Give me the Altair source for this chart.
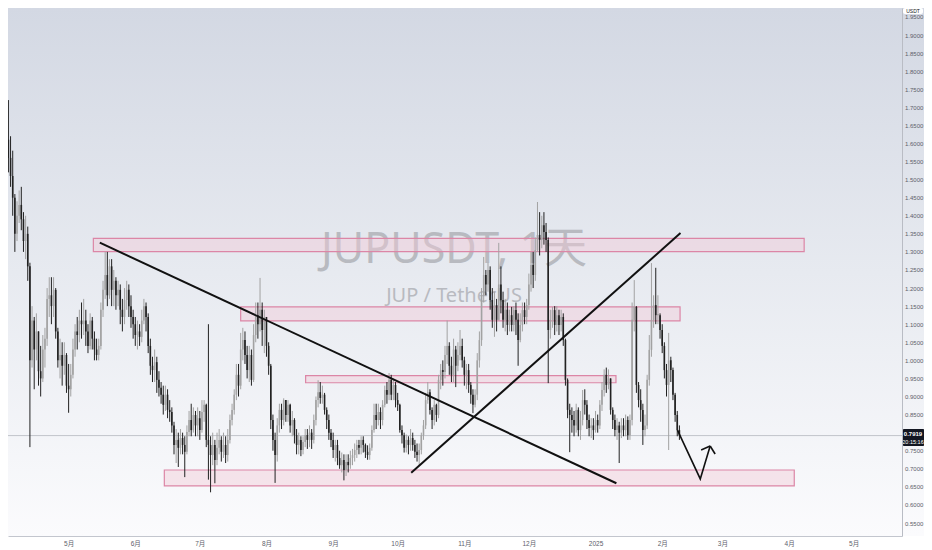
import json
import altair as alt
import pandas as pd

# ---------------- data (daily candles, day 0 = 2024-04-01) ----------------
first_open = 1.84
close = [1.66, 1.61, 1.56, 1.51, 1.45, 1.35, 1.40, 1.43, 1.39, 1.33,
         1.35, 1.26, 1.00, 1.11, 1.03, 1.08, 0.97, 0.95, 1.03, 1.06,
         1.17, 1.18, 1.15, 1.195, 1.08, 1.00, 1.015, 0.985, 1.015, 0.93,
         0.92, 0.96, 1.03, 1.08, 1.07, 1.11, 1.10, 1.11, 1.08, 1.04,
         1.11, 1.06, 1.03, 1.015, 1.04, 1.14, 1.195, 1.236, 1.18, 1.26,
         1.195, 1.22, 1.18, 1.195, 1.14, 1.12, 1.167, 1.195, 1.15, 1.12,
         1.10, 1.07, 1.08, 1.065, 1.11, 1.15, 1.12, 1.04, 0.985, 0.973,
         0.995, 0.946, 0.924, 0.905, 0.877, 0.905, 0.863, 0.857, 0.82, 0.766,
         0.78, 0.758, 0.785, 0.766, 0.747, 0.802, 0.835, 0.807, 0.849, 0.82,
         0.84, 0.807, 0.857, 0.877, 0.78, 0.766, 0.738, 0.766, 0.724, 0.758,
         0.78, 0.747, 0.766, 0.738, 0.78, 0.835, 0.863, 0.905, 0.96, 0.93,
         1.03, 1.056, 1.015, 0.973, 1.015, 0.946, 1.07, 1.125, 1.10, 1.14,
         1.084, 1.12, 1.04, 0.985, 0.835, 0.78, 0.738, 0.82, 0.863, 0.835,
         0.89, 0.849, 0.877, 0.82, 0.835, 0.793, 0.766, 0.78, 0.752, 0.774,
         0.793, 0.78, 0.80, 0.78, 0.835, 0.89, 0.912, 0.896, 0.905, 0.863,
         0.835, 0.80, 0.78, 0.752, 0.766, 0.73, 0.71, 0.724, 0.697, 0.719,
         0.71, 0.73, 0.738, 0.752, 0.766, 0.758, 0.78, 0.766, 0.747, 0.738,
         0.758, 0.807, 0.849, 0.835, 0.857, 0.835, 0.877, 0.918, 0.905, 0.946,
         0.905, 0.932, 0.89, 0.877, 0.807, 0.793, 0.758, 0.78, 0.766, 0.785,
         0.766, 0.747, 0.738, 0.752, 0.793, 0.82, 0.89, 0.912, 0.863, 0.835,
         0.877, 0.849, 0.946, 0.973, 0.968, 1.015, 1.04, 0.985, 0.96, 1.03,
         0.985, 1.015, 1.04, 1.00, 0.96, 0.973, 0.932, 0.905, 0.877, 0.905,
         1.00, 1.056, 1.18, 1.236, 1.21, 1.25, 1.167, 1.112, 1.153, 1.112,
         1.21, 1.167, 1.112, 1.14, 1.098, 1.125, 1.098, 1.139, 1.112, 1.056,
         1.098, 1.139, 1.12, 1.153, 1.21, 1.264, 1.236, 1.305, 1.347, 1.333,
         1.374, 1.355, 1.333, 1.084, 1.112, 1.139, 1.098, 1.125, 1.098, 1.12,
         1.056, 0.946, 0.863, 0.849, 0.835, 0.82, 0.863, 0.807, 0.835, 0.89,
         0.877, 0.835, 0.813, 0.82, 0.807, 0.835, 0.82, 0.877, 0.918, 0.96,
         0.932, 0.95, 0.863, 0.835, 0.807, 0.82, 0.80, 0.82, 0.807, 0.835,
         0.793, 0.835, 1.112, 1.148, 0.932, 0.89, 0.863, 0.807, 0.82, 0.946,
         1.029, 1.112, 1.153, 1.125, 1.125, 1.084, 1.04, 0.973, 0.932, 1.00,
         0.973, 0.905, 0.849, 0.807, 0.7919]
high = [1.87, 1.70, 1.72, 1.62, 1.58, 1.46, 1.44, 1.47, 1.48, 1.41,
        1.40, 1.37, 1.27, 1.15, 1.12, 1.13, 1.08, 1.04, 1.07, 1.09,
        1.20, 1.23, 1.23, 1.23, 1.20, 1.09, 1.06, 1.05, 1.05, 1.02,
        0.99, 0.99, 1.06, 1.10, 1.12, 1.14, 1.16, 1.17, 1.14, 1.10,
        1.13, 1.12, 1.08, 1.06, 1.06, 1.16, 1.22, 1.30, 1.30, 1.28,
        1.28, 1.25, 1.23, 1.22, 1.21, 1.17, 1.20, 1.22, 1.21, 1.18,
        1.14, 1.12, 1.11, 1.10, 1.14, 1.17, 1.16, 1.13, 1.06, 1.01,
        1.03, 1.01, 0.97, 0.94, 0.93, 0.93, 0.92, 0.89, 0.87, 0.83,
        0.81, 0.80, 0.81, 0.80, 0.79, 0.82, 0.86, 0.88, 0.87, 0.86,
        0.87, 0.86, 0.89, 0.89, 0.88, 1.10, 0.79, 0.80, 0.78, 0.80,
        0.81, 0.79, 0.80, 0.79, 0.81, 0.85, 0.88, 0.92, 0.99, 0.99,
        1.076, 1.09, 1.08, 1.04, 1.04, 1.03, 1.10, 1.16, 1.16, 1.228,
        1.16, 1.14, 1.12, 1.05, 0.99, 0.85, 0.80, 0.84, 0.88, 0.88,
        0.895, 0.89, 0.89, 0.88, 0.86, 0.84, 0.81, 0.80, 0.79, 0.79,
        0.81, 0.81, 0.82, 0.81, 0.85, 0.90, 0.945, 0.94, 0.93, 0.91,
        0.87, 0.85, 0.81, 0.80, 0.78, 0.78, 0.75, 0.745, 0.74, 0.74,
        0.74, 0.75, 0.755, 0.77, 0.78, 0.78, 0.79, 0.79, 0.77, 0.765,
        0.77, 0.82, 0.88, 0.88, 0.88, 0.87, 0.89, 0.93, 0.94, 0.965,
        0.96, 0.95, 0.94, 0.91, 0.88, 0.82, 0.80, 0.795, 0.79, 0.81,
        0.80, 0.78, 0.77, 0.77, 0.80, 0.835, 0.91, 0.94, 0.92, 0.87,
        0.89, 0.88, 0.96, 0.99, 1.00, 1.04, 1.11, 1.05, 1.01, 1.06,
        1.04, 1.05, 1.084, 1.06, 1.01, 0.99, 0.99, 0.94, 0.92, 0.92,
        1.02, 1.08, 1.20, 1.286, 1.25, 1.27, 1.26, 1.20, 1.19, 1.17,
        1.325, 1.26, 1.19, 1.17, 1.16, 1.14, 1.148, 1.15, 1.16, 1.13,
        1.13, 1.16, 1.16, 1.17, 1.24, 1.30, 1.30, 1.34, 1.438, 1.41,
        1.40, 1.41, 1.38, 1.34, 1.14, 1.148, 1.15, 1.15, 1.14, 1.14,
        1.13, 1.06, 0.95, 0.88, 0.87, 0.86, 0.88, 0.87, 0.86, 0.918,
        0.92, 0.89, 0.85, 0.84, 0.84, 0.86, 0.85, 0.89, 0.94, 0.975,
        0.98, 0.975, 0.95, 0.87, 0.85, 0.84, 0.83, 0.84, 0.84, 0.85,
        0.845, 0.85, 1.16, 1.222, 1.15, 0.94, 0.92, 0.88, 0.85, 0.96,
        1.07, 1.269, 1.18, 1.256, 1.18, 1.13, 1.10, 1.05, 0.99, 1.076,
        1.01, 0.98, 0.91, 0.86, 0.82]
low = [1.62, 1.55, 1.52, 1.48, 1.40, 1.30, 1.33, 1.38, 1.36, 1.30,
       1.28, 1.22, 0.76, 0.98, 0.92, 1.00, 0.93, 0.90, 0.94, 0.98,
       1.04, 1.12, 1.10, 1.12, 1.06, 0.98, 0.95, 0.93, 0.96, 0.91,
       0.855, 0.90, 0.95, 1.01, 1.03, 1.05, 1.06, 1.07, 1.04, 1.02,
       1.03, 1.03, 1.00, 1.00, 1.00, 1.03, 1.12, 1.17, 1.15, 1.17,
       1.15, 1.15, 1.14, 1.15, 1.10, 1.08, 1.10, 1.14, 1.12, 1.09,
       1.06, 1.04, 1.03, 1.04, 1.05, 1.10, 1.08, 1.02, 0.96, 0.94,
       0.94, 0.91, 0.90, 0.88, 0.85, 0.86, 0.84, 0.83, 0.80, 0.74,
       0.716, 0.705, 0.74, 0.74, 0.677, 0.74, 0.79, 0.79, 0.80, 0.79,
       0.79, 0.78, 0.80, 0.83, 0.76, 0.67, 0.635, 0.71, 0.66, 0.71,
       0.74, 0.72, 0.73, 0.716, 0.72, 0.77, 0.82, 0.85, 0.89, 0.90,
       0.92, 1.00, 0.99, 0.95, 0.94, 0.93, 0.94, 1.05, 1.06, 1.08,
       1.04, 1.02, 1.01, 0.96, 0.81, 0.75, 0.661, 0.72, 0.80, 0.81,
       0.82, 0.83, 0.83, 0.80, 0.79, 0.77, 0.74, 0.74, 0.735, 0.74,
       0.76, 0.755, 0.76, 0.755, 0.77, 0.82, 0.87, 0.88, 0.88, 0.85,
       0.81, 0.78, 0.76, 0.73, 0.72, 0.71, 0.70, 0.69, 0.668, 0.68,
       0.69, 0.70, 0.71, 0.72, 0.73, 0.74, 0.74, 0.745, 0.73, 0.725,
       0.725, 0.75, 0.80, 0.81, 0.82, 0.81, 0.82, 0.87, 0.88, 0.89,
       0.89, 0.89, 0.87, 0.86, 0.80, 0.77, 0.745, 0.745, 0.74, 0.75,
       0.75, 0.73, 0.72, 0.71, 0.74, 0.78, 0.81, 0.88, 0.85, 0.81,
       0.82, 0.83, 0.84, 0.92, 0.93, 0.95, 0.99, 0.96, 0.94, 0.94,
       0.926, 0.97, 1.00, 0.98, 0.93, 0.92, 0.91, 0.88, 0.854, 0.87,
       0.89, 0.98, 1.04, 1.16, 1.18, 1.19, 1.14, 1.09, 1.065, 1.08,
       1.11, 1.13, 1.09, 1.08, 1.07, 1.08, 1.08, 1.08, 1.07, 0.985,
       1.05, 1.08, 1.10, 1.10, 1.14, 1.19, 1.20, 1.22, 1.30, 1.29,
       1.31, 1.32, 1.30, 0.937, 1.06, 1.09, 1.07, 1.08, 1.07, 1.08,
       1.04, 0.93, 0.84, 0.746, 0.80, 0.79, 0.80, 0.79, 0.78, 0.82,
       0.85, 0.81, 0.79, 0.785, 0.78, 0.80, 0.80, 0.81, 0.86, 0.90,
       0.91, 0.92, 0.85, 0.81, 0.79, 0.78, 0.716, 0.785, 0.79, 0.79,
       0.78, 0.78, 0.82, 1.08, 0.91, 0.87, 0.83, 0.766, 0.79, 0.81,
       0.93, 1.01, 1.09, 1.10, 1.10, 1.06, 1.02, 0.95, 0.90, 0.752,
       0.94, 0.89, 0.83, 0.79, 0.78]

# axis ticks / labels
month_ticks = [30, 61, 91, 122, 153, 183, 214, 244, 275, 306, 334, 365, 395]
month_labels = ["5月", "6月", "7月", "8月", "9月", "10月", "11月", "12月",
                "2025", "2月", "3月", "4月", "5月"]
# 0.80 omitted: hidden behind the last-price tag in the reference
price_ticks = [0.55, 0.60, 0.65, 0.70, 0.75, 0.85, 0.90, 0.95, 1.00, 1.05,
               1.10, 1.15, 1.20, 1.25, 1.30, 1.35, 1.40, 1.45, 1.50, 1.55,
               1.60, 1.65, 1.70, 1.75, 1.80, 1.85, 1.90, 1.95]

# drawn zones (day index, price)
zone_start = [41.5, 110.0, 140.2, 74.5]
zone_end = [372.0, 314.3, 284.5, 367.4]
zone_low = [1.3006, 1.109, 0.938, 0.6525]
zone_high = [1.3376, 1.148, 0.9575, 0.6967]

# trend lines
trend_x1 = [44.5, 189.3]
trend_y1 = [1.3255, 0.689]
trend_x2 = [284.7, 314.5]
trend_y2 = [0.660, 1.352]

# projection arrow
arrow_d = [313.1, 323.7, 328.3]
arrow_p = [0.807, 0.672, 0.763]
head_d = [324.1, 330.6]
head_p = [0.752, 0.741]

timer_text = "20:15:16"

# ---------------- build tables ----------------
rows = []
prev = first_open
for i, c in enumerate(close):
    o = prev
    h = max(high[i], o, c)
    l = min(low[i], o, c)
    lo, hi = min(o, c), max(o, c)
    if hi - lo < 0.003:
        hi = lo + 0.003
    rows.append({"d": i, "o": o, "h": h, "l": l, "c": c,
                 "blo": lo, "bhi": hi, "dir": "up" if c >= o else "down"})
    prev = c
candles = pd.DataFrame(rows)

zones = pd.DataFrame({"s": zone_start, "e": zone_end, "lo": zone_low, "hi": zone_high})
trends = pd.DataFrame({"x1": trend_x1, "y1": trend_y1, "x2": trend_x2, "y2": trend_y2})
arrow = pd.DataFrame({"d": arrow_d, "p": arrow_p, "k": list(range(len(arrow_d)))})
heads = pd.DataFrame({"x1": [arrow_d[-1]] * 2, "y1": [arrow_p[-1]] * 2,
                      "x2": head_d, "y2": head_p})
last = pd.DataFrame({"p": [close[-1]]})
one = pd.DataFrame({"k": [0]})

W, H = 894, 528
PR = 22
FONT = "Noto Sans, Noto Sans CJK SC, sans-serif"
AXFONT = "Liberation Sans, Noto Sans, Noto Sans CJK SC, sans-serif"

xs = alt.Scale(domain=[4.138, 415.17], nice=False, zero=False)
ys = alt.Scale(domain=[0.51411, 1.97469], nice=False, zero=False)

label_expr = "{}[indexof({}, datum.value)]".format(
    json.dumps(month_labels, ensure_ascii=False), json.dumps(month_ticks))
xaxis = alt.Axis(values=month_ticks, labelExpr=label_expr, title=None, grid=False,
                 ticks=False, domainColor="#c3c6ce", labelColor="#5d606b",
                 labelFontSize=6.5, labelFont=AXFONT, labelPadding=4,
                 labelFlush=False, labelOverlap=False, zindex=1)
yaxis = alt.Axis(orient="right", values=price_ticks, format=".4f", title=None,
                 grid=False, ticks=False, domainColor="#b9bcc4", labelColor="#5d606b",
                 labelFontSize=6, labelFont=AXFONT, labelPadding=2.5,
                 labelFlush=False, labelOverlap=False, zindex=1)

X = alt.X("d:Q", scale=xs, axis=xaxis)
Y = alt.Y("p:Q", scale=ys, axis=yaxis)

grad = alt.Gradient(gradient="linear", x1=0, y1=0, x2=0, y2=1,
                    stops=[alt.GradientStop(color="#d3d8e3", offset=0),
                           alt.GradientStop(color="#e7eaf0", offset=0.5),
                           alt.GradientStop(color="#fbfbfd", offset=1)])
bg = alt.Chart(one).mark_rect(fill=grad).encode(
    x=alt.value(0), x2=alt.value(W + PR), y=alt.value(0), y2=alt.value(H))

wm1 = alt.Chart(one).mark_text(text="JUPUSDT, 1天", fontSize=43, font=FONT,
                               color="#b8bac0", align="center", baseline="alphabetic").encode(
    x=alt.value(446), y=alt.value(255))
wm2 = alt.Chart(one).mark_text(text="JUP / TetherUS", fontSize=20, font=FONT,
                               color="#b8bac0", align="center", baseline="alphabetic").encode(
    x=alt.value(446), y=alt.value(294))

zone_layer = alt.Chart(zones).mark_rect(fill="#f2c9d8", fillOpacity=0.45,
                                        stroke="#dc86a6", strokeWidth=1.2, clip=True).encode(
    x=alt.X("s:Q", scale=xs, axis=xaxis), x2="e:Q",
    y=alt.Y("lo:Q", scale=ys, axis=yaxis), y2="hi:Q")

price_line = alt.Chart(last).mark_rule(color="#c2c4ca", strokeWidth=1).encode(
    y=Y, x=alt.value(0), x2=alt.value(W))

color = alt.Color("dir:N", scale=alt.Scale(domain=["up", "down"],
                                           range=["#a2a2a2", "#222222"]), legend=None)
wicks = alt.Chart(candles).mark_rule(strokeWidth=1, clip=True).encode(
    x=X, y=alt.Y("l:Q", scale=ys, axis=yaxis), y2="h:Q", color=color)
bodies = alt.Chart(candles).mark_bar(size=1.6, clip=True).encode(
    x=X, y=alt.Y("blo:Q", scale=ys, axis=yaxis), y2="bhi:Q", color=color)

trend_layer = alt.Chart(trends).mark_rule(color="#111111", strokeWidth=2, clip=True).encode(
    x=alt.X("x1:Q", scale=xs, axis=xaxis), x2="x2:Q",
    y=alt.Y("y1:Q", scale=ys, axis=yaxis), y2="y2:Q")

arrow_layer = alt.Chart(arrow).mark_line(color="#111111", strokeWidth=1.6).encode(
    x=X, y=Y, order="k:Q")
head_layer = alt.Chart(heads).mark_rule(color="#111111", strokeWidth=1.6).encode(
    x=alt.X("x1:Q", scale=xs, axis=xaxis), x2="x2:Q",
    y=alt.Y("y1:Q", scale=ys, axis=yaxis), y2="y2:Q")

tag_box = alt.Chart(one).mark_rect(fill="#131722", cornerRadius=1).encode(
    x=alt.value(895), x2=alt.value(W + PR), y=alt.value(421), y2=alt.value(438))
tag_price = alt.Chart(one).mark_text(text=f"{close[-1]:.4f}", fontSize=6, font=AXFONT,
                                     fontWeight="bold", color="#ffffff",
                                     align="center", baseline="middle").encode(
    x=alt.value(905), y=alt.value(425.5))
tag_time = alt.Chart(one).mark_text(text=timer_text, fontSize=5.5, font=AXFONT,
                                    color="#ffffff", align="center", baseline="middle").encode(
    x=alt.value(905), y=alt.value(433.5))

unit_box = alt.Chart(one).mark_rect(fill="#ffffff", cornerRadius=2).encode(
    x=alt.value(895), x2=alt.value(915), y=alt.value(0), y2=alt.value(6))
unit_text = alt.Chart(one).mark_text(text="USDT", fontSize=5, font=AXFONT,
                                     color="#131722", align="center", baseline="middle").encode(
    x=alt.value(905), y=alt.value(2.5))

chart = alt.layer(
    bg, wm1, wm2, zone_layer, price_line, wicks, bodies, trend_layer,
    arrow_layer, head_layer, tag_box, tag_price, tag_time, unit_box, unit_text
).properties(
    width=W, height=H,
    autosize=alt.AutoSizeParams(type="none"),
    padding={"left": 0, "top": 0, "right": PR, "bottom": 12},
    background="#ffffff",
).configure_view(stroke=None)

chart.save("out.html", embed_options={"renderer": "svg", "actions": False})
